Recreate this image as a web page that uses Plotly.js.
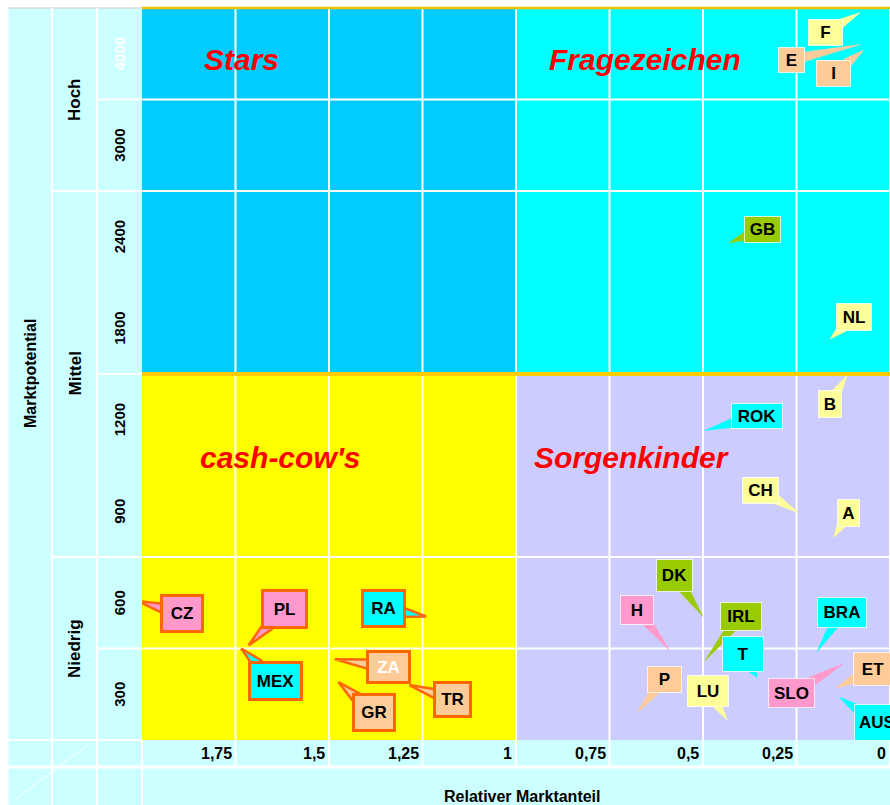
<!DOCTYPE html>
<html><head><meta charset="utf-8">
<script src="https://cdn.plot.ly/plotly-3.0.1.min.js"></script>
<style>html,body{margin:0;padding:0;background:#fff;overflow:hidden}#chart{width:890px;height:805px}</style>
</head><body><div id="chart"></div>
<script>
// ---- data ----
const xTickVals = [1.75, 1.5, 1.25, 1, 0.75, 0.5, 0.25, 0];
const xTickText = ['1,75', '1,5', '1,25', '1', '0,75', '0,5', '0,25', '0'];
const yBreaks = [0, 300, 600, 900, 1200, 1800, 2400, 3000, 4000];
const yTickText = ['300', '600', '900', '1200', '1800', '2400', '3000', '4000'];
const levelNames = ['Niedrig', 'Mittel', 'Hoch'];
const quadrantNames = ['Stars', 'Fragezeichen', "cash-cow's", 'Sorgenkinder'];
const xTitle = 'Relativer Marktanteil';
const yTitle = 'Marktpotential';

const countries = ['F','E','I','GB','NL','B','ROK','CH','A','DK','H','IRL','T','BRA','P','LU','SLO','ET','AUS','CZ','PL','MEX','RA','ZA','GR','TR'];
const marketShare = [0.08,0.08,0.07,0.43,0.16,0.115,0.495,0.245,0.15,0.50,0.59,0.495,0.355,0.195,0.675,0.435,0.125,0.145,0.135,2.01,1.715,1.735,1.24,1.485,1.475,1.285];
const marketPotential = [3950,3600,3540,2060,1430,1195,1015,745,665,405,295,260,205,290,90,65,250,170,140,455,310,300,405,265,190,180];

// ---- styles / label placement (pixels) ----
const Y_ = '#FFFF99', PE = '#FFCC99', GR_ = '#99CC00', CY = '#00FFFF', PK = '#FF99CC';
const boxColors = [Y_,PE,PE,GR_,Y_,Y_,CY,Y_,Y_,GR_,PK,GR_,CY,CY,PE,Y_,PK,PE,CY,PK,PK,CY,CY,PE,PE,PE];
const labelDx = [-34.5,-68.5,-30.5,33.5,24,-17,52,-37.5,14.5,-28.5,-32,36,-14,25,26.5,-19,-51.5,37,37,44,35.5,34.5,-42.5,53.5,36,43.5];
const labelDy = [19.5,15,23.5,-13.5,-22,28,-14,-22.5,-24,-40.5,-40,-44.5,-23,-39.5,-33.5,-29,29,-19,25,12.5,-36,32,-7.5,8,30.5,14.5];
const boxW = [35,27,35,37,36,24,52,37,23,37,34,42,42,50,35,42,47,40,46,44,47,55,45,45,44,39];
const boxH = [27,26,27,27,28,28,26,27,28,33,30,29,36,31,27,32,30,34,37,39,40,40,39,34,39,37];

const FONT = 'Liberation Sans, Arial, sans-serif';
const L = 142, T = 8, B = 65, WIDTH = 890, HEIGHT = 805;
const PW = WIDTH - L, PH = HEIGHT - T - B;
const PXU = PW / 2;          // px per x unit
const PYU = PH / 8;          // px per band
const X = px => (px - L) / PW;
const Yp = py => (T + PH - py) / PH;
const xv = v => (2 - v) / 2;   // data x -> paper x (reversed axis 2..0)
const yb = b => b / 8;         // band -> paper y

function toBand(v) {
  for (let i = 0; i < yBreaks.length - 1; i++) {
    if (v <= yBreaks[i + 1] || i === yBreaks.length - 2)
      return i + (v - yBreaks[i]) / (yBreaks[i + 1] - yBreaks[i]);
  }
}

const shapes = [];
function rect(x0, x1, y0, y1, color) {
  shapes.push({type: 'rect', xref: 'paper', yref: 'paper', x0, x1, y0, y1,
    fillcolor: color, line: {width: 0}, layer: 'below'});
}
function line(x0, y0, x1, y1, color, w) {
  shapes.push({type: 'line', xref: 'paper', yref: 'paper', x0, y0, x1, y1,
    line: {color, width: w}, layer: 'below'});
}
// panels
rect(X(8), X(142), Yp(810), Yp(8), '#CCFFFF');
rect(X(8), X(900), Yp(810), Yp(740), '#CCFFFF');
// quadrants
rect(xv(2), xv(1), yb(4), yb(8), '#00CCFF');
rect(xv(1), xv(0), yb(4), yb(8), '#00FFFF');
rect(xv(2), xv(1), yb(0), yb(4), '#FFFF00');
rect(xv(1), xv(0), yb(0), yb(4), '#CCCCFF');
// vertical grid lines (plot + tick row)
xTickVals.forEach(v => line(xv(v), Yp(767), xv(v), 1, '#FFFFFF', 2));
// horizontal grid lines
[1, 2, 6, 7].forEach(b => line(X((b === 2 || b === 6) ? 52 : 97), yb(b), 1, yb(b), '#FFFFFF', 2));
line(X(97), yb(4), X(142), yb(4), '#FFFFFF', 2);
line(0, yb(4), 1, yb(4), '#FFCC00', 4);
line(X(8), 1, 0, 1, '#D8D8D8', 1.5);
line(0, 1, 1, 1, '#F2C200', 2.5);
// panel lines
line(X(52), Yp(810), X(52), Yp(8), '#FFFFFF', 2);
line(X(97), Yp(810), X(97), Yp(8), '#FFFFFF', 2);
line(X(142), Yp(810), X(142), Yp(740), '#FFFFFF', 2);
line(X(8), Yp(740), X(142), Yp(740), '#FFFFFF', 2);
line(X(8), Yp(767), 1, Yp(767), '#FFFFFF', 3);
line(X(8), Yp(810), X(8), Yp(8), '#FFFFFF', 1);
line(X(13), Yp(801), X(89), Yp(744), '#FFFFFF', 1);

const annotations = [];
function txt(x, y, text, size, extra) {
  annotations.push(Object.assign({xref: 'paper', yref: 'paper', x, y, text, showarrow: false,
    xanchor: 'center', yanchor: 'middle',
    font: {family: FONT, size, weight: 700, color: '#000000'}}, extra || {}));
}
// y tick labels
yTickText.forEach((t, i) => txt(X(119.5), yb(i + 0.5), t, 15,
  {textangle: -90, font: {family: FONT, size: 15, weight: 700, color: i === yTickText.length - 1 ? '#FFFFFF' : '#000000'}}));
// level labels
levelNames.forEach((t, i) => txt(X(74.5), yb([1, 4, 7][i]), t, 17, {textangle: -90}));
txt(X(30), yb(4), yTitle, 16, {textangle: -90});
// x tick labels
xTickVals.forEach((v, i) => txt(xv(v), Yp(753.5), xTickText[i], 16, {xanchor: 'right', xshift: -2}));
txt(X(522), Yp(796), xTitle, 16);
// quadrant titles
const qX = [241, 645, 280, 632], qY = [60, 59, 457, 457];
quadrantNames.forEach((t, i) => txt(X(qX[i]), Yp(qY[i]), t, 30,
  {font: {family: FONT, size: 30, weight: 700, style: 'italic', color: '#FF0000'}}));

// callouts
const traces = [];
countries.forEach((c, i) => {
  const tx = marketShare[i], ty = toBand(marketPotential[i]);
  const dx = labelDx[i], dy = labelDy[i];
  const cx = tx - dx / PXU, cy = ty - dy / PYU;
  const left = tx > 1;
  const len = Math.hypot(dx, dy);
  const ux = dx / len, uy = dy / len;
  const hw = boxW[i] / 2, hh = boxH[i] / 2;
  const s = Math.min(Math.abs(dx) > 0.01 ? hw / Math.abs(dx) : 1e9, Math.abs(dy) > 0.01 ? hh / Math.abs(dy) : 1e9);
  const dist = len * (1 - s) + 5;
  const bx = ux * dist, by = uy * dist;
  const half = 5;
  const p1 = [bx - uy * half, by + ux * half], p2 = [bx + uy * half, by - ux * half];
  const toX = p => tx - p[0] / PXU, toY = p => ty - p[1] / PYU;
  traces.push({type: 'scatter', mode: 'lines', x: [tx, toX(p1), toX(p2), tx], y: [ty, toY(p1), toY(p2), ty],
    fill: 'toself', fillcolor: boxColors[i], hoverinfo: 'skip', showlegend: false,
    line: {color: left ? '#FF6600' : boxColors[i], width: left ? 2.5 : 0.5}});
  const bw = left ? 3 : 1;
  annotations.push({xref: 'x', yref: 'y', x: cx, y: cy, text: c, showarrow: false,
    xanchor: 'center', yanchor: 'middle',
    width: boxW[i] - 2 * bw, height: boxH[i] - 2 * bw, borderpad: 0, borderwidth: bw,
    bordercolor: left ? '#FF6600' : 'rgba(255,255,255,0.75)', bgcolor: boxColors[i],
    font: {family: FONT, size: 17, weight: 700, color: c === 'ZA' ? '#FFFFFF' : '#000000'}});
});

const layout = {
  width: WIDTH, height: HEIGHT,
  margin: {l: L, r: 0, t: T, b: B, pad: 0},
  paper_bgcolor: '#FFFFFF', plot_bgcolor: 'rgba(0,0,0,0)',
  showlegend: false,
  xaxis: {range: [2, 0], visible: false, fixedrange: true},
  yaxis: {range: [0, 8], visible: false, fixedrange: true},
  shapes, annotations
};
Plotly.newPlot('chart', traces, layout, {displayModeBar: false, staticPlot: true});
</script></body></html>
